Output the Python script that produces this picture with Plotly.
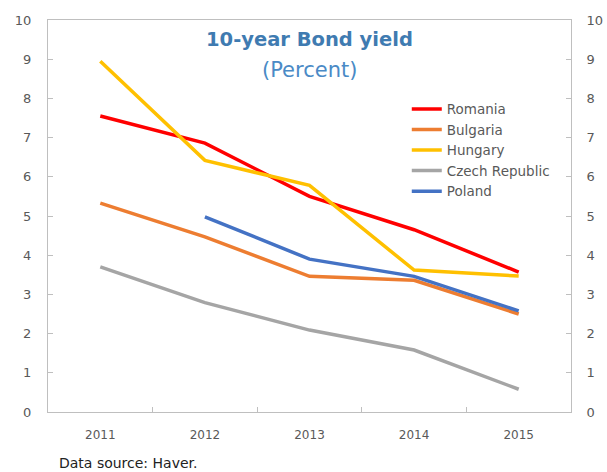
import plotly.graph_objects as go

years = ["2011", "2012", "2013", "2014", "2015"]
romania = [7.55, 6.86, 5.50, 4.65, 3.57]
bulgaria = [5.33, 4.47, 3.46, 3.36, 2.50]
hungary = [8.95, 6.42, 5.78, 3.62, 3.47]
czech = [3.70, 2.79, 2.09, 1.58, 0.58]
poland = [None, 4.98, 3.90, 3.46, 2.58]

series = [
    ("Romania", romania, "#ff0000"),
    ("Bulgaria", bulgaria, "#ed7d31"),
    ("Hungary", hungary, "#ffc000"),
    ("Czech Republic", czech, "#a5a5a5"),
    ("Poland", poland, "#4472c4"),
]

FONT = "DejaVu Sans"
GREY = "#595959"
AXIS = "#bfbfbf"

fig = go.Figure()
for name, vals, col in series:
    fig.add_trace(go.Scatter(x=years, y=vals, name=name, mode="lines",
                             line=dict(color=col, width=3.5),
                             connectgaps=False))

# invisible trace so the right-hand axis is drawn
fig.add_trace(go.Scatter(x=years, y=romania, yaxis="y2", showlegend=False,
                         hoverinfo="skip", mode="lines",
                         line=dict(color="rgba(0,0,0,0)")))

yax = dict(range=[0, 10], dtick=1, tick0=0, showgrid=False, zeroline=False,
           showline=True, linecolor=AXIS, linewidth=1, automargin=False,
           ticks="inside", ticklen=5, tickcolor=AXIS,
           tickfont=dict(family=FONT, size=13, color=GREY))

fig.update_layout(
    width=607, height=472,
    margin=dict(l=48, r=36, t=20, b=60),
    paper_bgcolor="white", plot_bgcolor="white",
    font=dict(family=FONT, color=GREY),
    xaxis=dict(type="category", range=[-0.5, 4.5], showgrid=False,
               showline=True, linecolor=AXIS, mirror=True, automargin=False,
               ticks="inside", ticklen=5, tickcolor=AXIS,
               tickson="boundaries", ticklabelstandoff=12,
               tickfont=dict(family=FONT, size=12, color=GREY)),
    yaxis=dict(**yax, mirror=True, ticklabelstandoff=13),
    yaxis2=dict(**yax, overlaying="y", side="right", ticklabelstandoff=12),
    legend=dict(x=0.686, y=0.812, xanchor="left", yanchor="top",
                bgcolor="rgba(0,0,0,0)", tracegroupgap=0,
                font=dict(family=FONT, size=13.5, color=GREY)),
    showlegend=True,
    annotations=[
        dict(text="<b>10-year Bond yield</b>", x=309, y=40, showarrow=False,
             font=dict(family=FONT, size=19.5, color="#3f7bb1")),
        dict(text="(Percent)", x=309, y=70, showarrow=False,
             font=dict(family=FONT, size=21, color="#4a8ac6")),
        dict(text="Data source: Haver.", x=57, y=463, showarrow=False,
             xanchor="left", font=dict(family=FONT, size=14, color="#222222")),
    ],
)

# place the text annotations in pixel coordinates
W, H = 607, 472
L, R, T, B = 48, 36, 20, 60
pw, ph = W - L - R, H - T - B
new_ann = []
for a in fig.layout.annotations:
    a = a.to_plotly_json()
    a["xref"] = "paper"
    a["yref"] = "paper"
    a["x"] = (a["x"] - L) / pw
    a["y"] = (H - B - a["y"]) / ph
    a["yanchor"] = "middle"
    new_ann.append(a)
fig.update_layout(annotations=new_ann)

fig.write_html("out.html")
